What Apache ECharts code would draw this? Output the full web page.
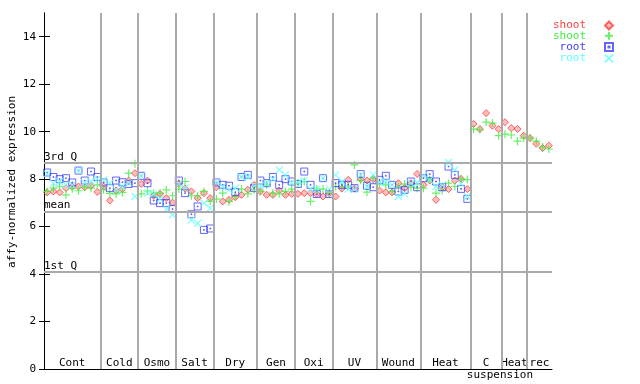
<!DOCTYPE html>
<html><head><meta charset="utf-8">
<script src="https://cdn.jsdelivr.net/npm/echarts@6/dist/echarts.min.js"></script>
<style>html,body{margin:0;padding:0;background:#fff}#c{width:640px;height:384px}</style>
</head><body><div id="c"></div>
<script>
// group names and number of samples per group
const groupNames = ['Cont','Cold','Osmo','Salt','Dry','Gen','Oxi','UV','Wound','Heat','C','Heat','rec'];
const groupSizes = [9,6,6,6,7,6,6,7,7,8,5,4,4];
const subLabel = 'suspension';
const subLabelPos = 72.7;
const yTitle = 'affy-normalized expression';
const yTicks = [0,2,4,6,8,10,12,14];
const refLines = [['3rd Q', 8.67], ['mean', 6.61], ['1st Q', 4.08]];

const shoot1 = [7.44,7.48,7.44,7.62,7.69,7.69,7.66,7.72,7.46,
 7.69,7.10,7.52,7.58,7.94,8.25,
 7.80,7.94,7.30,7.38,7.20,7.01,
 7.80,7.60,7.48,7.20,7.41,7.20,
 7.66,7.06,7.13,7.24,7.34,7.55,7.76,
 7.48,7.34,7.34,7.52,7.34,7.38,
 7.38,7.41,7.41,7.37,7.27,7.40,
 7.27,7.60,7.97,7.60,8.00,7.94,8.00,
 7.52,7.44,7.44,7.83,7.62,7.83,8.22,
 7.76,7.94,7.13,7.66,7.58,7.94,8.01,7.58,
 10.32,10.11,10.78,10.25,10.11,
 10.40,10.15,10.11,9.83,
 9.73,9.49,9.31,9.41];
const shoot2 = [7.48,7.62,7.70,7.34,7.60,7.51,7.66,7.62,7.76,
 7.55,7.40,7.38,7.44,8.25,8.65,
 7.38,7.50,7.41,7.41,7.55,7.30,
 7.58,7.90,7.30,7.30,7.48,7.06,
 7.16,7.41,7.06,7.27,7.58,7.38,7.55,
 7.48,7.76,7.41,7.38,7.48,7.58,
 7.83,7.90,7.06,7.58,7.58,7.40,
 7.69,7.69,7.70,8.60,7.95,7.45,8.04,
 7.79,7.76,7.48,7.69,7.79,7.66,7.62,
 7.62,7.97,7.41,7.52,7.83,7.69,8.01,7.98,
 10.11,10.08,10.40,10.36,9.83,
 9.90,9.86,9.60,9.73,
 9.73,9.60,9.35,9.27];
const root1 = [8.28,8.09,8.00,8.04,7.86,8.36,7.94,8.32,8.09,
 7.86,7.62,7.94,7.87,7.80,7.83,
 8.14,7.83,7.10,6.99,6.99,6.74,
 7.94,7.41,6.52,6.85,5.86,5.92,
 7.86,7.76,7.72,7.45,8.09,8.18,7.62,
 7.94,7.83,8.09,7.76,8.00,7.90,
 7.80,8.32,7.76,7.37,8.04,7.37,
 7.83,7.76,7.76,7.62,8.21,7.72,7.66,
 7.97,8.14,7.76,7.48,7.55,7.90,7.66,
 8.04,8.21,7.90,7.66,8.53,8.18,7.59,7.17,
 null,null,null,null,null,null,null,null,null,null,null,null,null];
const root2 = [8.22,7.83,7.90,7.76,7.76,8.36,7.83,7.90,8.00,
 7.97,7.83,7.55,7.69,7.83,7.27,
 8.14,7.41,7.38,7.16,6.74,6.50,
 7.80,7.62,6.28,6.14,6.99,6.78,
 7.86,7.69,7.55,7.62,8.09,8.09,7.72,
 7.72,7.83,8.00,8.39,8.18,7.86,
 7.86,7.94,7.58,7.58,8.04,7.58,
 8.18,7.90,7.58,7.58,8.18,7.70,8.18,
 7.86,7.90,7.76,7.27,7.38,7.83,7.86,
 8.14,7.97,7.69,7.76,8.70,8.39,7.80,7.27,
 null,null,null,null,null,null,null,null,null,null,null,null,null];

const FONT = 'DejaVu Sans Mono';
const bounds = []; const centers = [];
let acc = 0;
groupSizes.forEach(n => { centers.push(acc + n / 2); acc += n; bounds.push(acc); });
const total = acc;
const toPts = arr => arr.map((v, i) => v == null ? null : [i + 0.5, v]).filter(p => p);

const colors = { s1: '#ff4040', s2: '#40ee40', r1: '#4040ff', r2: '#60ffff' };

const chart = echarts.init(document.getElementById('c'), null, { renderer: 'canvas' });
chart.setOption({
  animation: false,
  backgroundColor: '#fff',
  grid: { left: 44, right: 88, top: 13, bottom: 15, containLabel: false, outerBoundsMode: 'none' },
  graphic: [{
    type: 'text', x: 12, y: 182, rotation: Math.PI / 2, silent: true,
    style: { text: yTitle, font: '11px "DejaVu Sans Mono"', fill: '#000', align: 'center', verticalAlign: 'middle' }
  }],
  legend: {
    orient: 'vertical', left: 552, top: 20, align: 'right', padding: 0,
    itemWidth: 8, itemHeight: 8, itemGap: -1.7, selectedMode: false,
    formatter: n => n.replace(/[0-9]/g, ''),
    textStyle: { fontFamily: FONT, fontSize: 11, lineHeight: 11, width: 34, align: 'right', padding: [0, 14, 0, 0] },
    data: [
      { name: 'shoot1', textStyle: { color: colors.s1 } },
      { name: 'shoot2', textStyle: { color: colors.s2 } },
      { name: 'root1', textStyle: { color: colors.r1 } },
      { name: 'root2', textStyle: { color: colors.r2 } }
    ]
  },
  xAxis: [{
    type: 'value', min: 0, max: total, position: 'bottom',
    axisLine: { show: true, lineStyle: { color: '#000', width: 1 } },
    axisTick: { show: false }, splitLine: { show: false },
    axisLabel: {
      inside: true, margin: 0, customValues: centers,
      formatter: v => { const i = centers.findIndex(c => Math.abs(c - v) < 1e-6); return i >= 0 ? groupNames[i] : ''; },
      fontFamily: FONT, fontSize: 11, color: '#000'
    }
  }, {
    type: 'value', min: 0, max: total, position: 'bottom',
    axisLine: { show: false }, axisTick: { show: false }, splitLine: { show: false },
    axisLabel: { margin: 1, customValues: [subLabelPos], formatter: () => subLabel, fontFamily: FONT, fontSize: 11, color: '#000' }
  }],
  yAxis: [{
    type: 'value', min: 0, max: 15, interval: 2, position: 'left',
    axisLine: { show: true, lineStyle: { color: '#000', width: 1 } },
    axisTick: { show: true, inside: true, length: 6, customValues: yTicks, lineStyle: { color: '#000' } },
    axisLabel: { customValues: yTicks, margin: 8, fontFamily: FONT, fontSize: 11, color: '#000' },
    splitLine: { show: false }
  }, {
    type: 'value', min: 0, max: 15, interval: 2, position: 'right',
    axisLine: { show: true, lineStyle: { color: '#000', width: 1 } },
    axisTick: { show: true, inside: true, length: 5, customValues: yTicks, lineStyle: { color: '#000' } },
    axisLabel: { show: false }, splitLine: { show: false }
  }],
  series: [
    {
      name: 'ref', type: 'scatter', data: [], silent: true,
      markLine: {
        silent: true, symbol: 'none', animation: false,
        lineStyle: { color: '#aaaaaa', width: 2, type: 'solid' },
        data: bounds.slice(0, -1).map(b => ({ xAxis: b, label: { show: false } }))
          .concat(refLines.map(r => ({ yAxis: r[1], name: r[0],
            label: { show: true, formatter: '{b}', position: 'insideStartTop', distance: [0, 1],
              fontFamily: FONT, fontSize: 11, color: '#000', padding: 0 } })))
      }
    },
    { name: 'shoot1', type: 'scatter', data: toPts(shoot1), symbol: 'diamond', symbolSize: 7,
      itemStyle: { color: 'rgba(255,90,90,0.5)', borderColor: colors.s1, borderWidth: 1 } },
    { name: 'shoot2', type: 'scatter', data: toPts(shoot2), symbol: 'path://M4,0L4,8M0,4L8,4', symbolSize: 8,
      itemStyle: { color: 'none', borderColor: colors.s2, borderWidth: 1.2 } },
    { name: 'root1', type: 'scatter', data: toPts(root1), symbol: 'path://M0,0H8V8H0ZM3.5,3.5H4.5V4.5H3.5Z', symbolSize: 7,
      itemStyle: { color: 'none', borderColor: colors.r1, borderWidth: 1 } },
    { name: 'root2', type: 'scatter', data: toPts(root2), symbol: 'path://M0,0L8,8M8,0L0,8', symbolSize: 7,
      itemStyle: { color: 'none', borderColor: colors.r2, borderWidth: 1.2 } }
  ]
});
</script></body></html>
